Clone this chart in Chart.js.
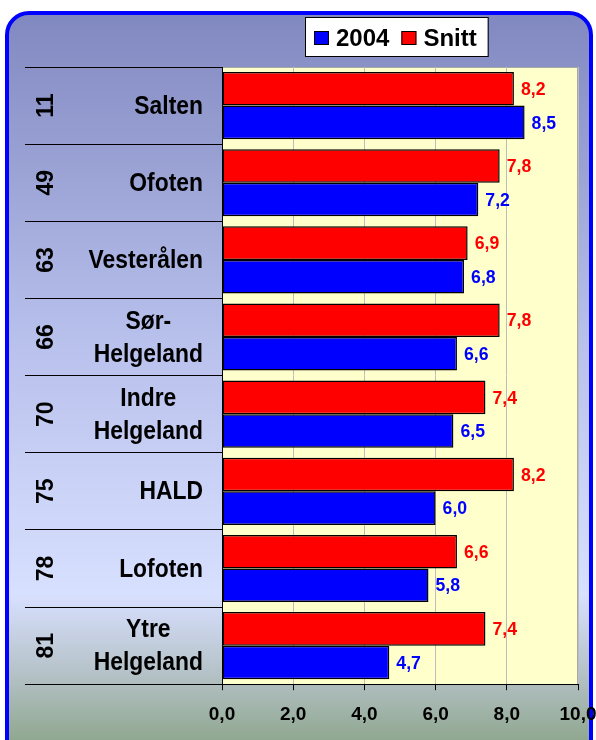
<!DOCTYPE html>
<html>
<head>
<meta charset="utf-8">
<script src="https://cdn.jsdelivr.net/npm/chart.js@4/dist/chart.umd.min.js"></script>
<style>
html, body { margin: 0; padding: 0; background: #fff; overflow: hidden; }
canvas { display: block; }
</style>
</head>
<body>
<canvas id="chart" width="620" height="740"></canvas>
<script>
const codes = ['11', '49', '63', '66', '70', '75', '78', '81']
const regions = [['Salten'], ['Ofoten'], ['Vesterålen'], ['Sør-', 'Helgeland'], ['Indre', 'Helgeland'], ['HALD'], ['Lofoten'], ['Ytre', 'Helgeland']]
const snitt = [8.2, 7.8, 6.9, 7.8, 7.4, 8.2, 6.6, 7.4]
const year2004 = [8.5, 7.2, 6.8, 6.6, 6.5, 6.0, 5.8, 4.7]
const xTicks = [0, 2, 4, 6, 8, 10]

const FONT = "'Liberation Sans', Arial, sans-serif"
const fmt = v => v.toFixed(1).replace('.', ',')

// background frame, plot fill, legend, category labels and value labels
const decor = {
	id: 'decor',
	beforeDraw(chart) {
		const ctx = chart.ctx
		const a = chart.chartArea
		ctx.save()
		// rounded frame with gradient
		const g = ctx.createLinearGradient(0, 12, 0, 740)
		g.addColorStop(0, '#8088C0')
		g.addColorStop(0.45, '#B8C0EC')
		g.addColorStop(0.8, '#D8E0FF')
		g.addColorStop(0.9, '#B8C4CC')
		g.addColorStop(1, '#90A890')
		ctx.beginPath()
		ctx.roundRect(7, 13, 584, 770, 22)
		ctx.fillStyle = g
		ctx.fill()
		ctx.lineWidth = 4
		ctx.strokeStyle = '#0000FF'
		ctx.stroke()
		// plot area
		ctx.fillStyle = '#FFFFCC'
		ctx.fillRect(a.left, a.top, a.right - a.left, a.bottom - a.top)
		ctx.strokeStyle = '#A8A8A8'
		ctx.lineWidth = 1
		ctx.strokeRect(a.left + 0.5, a.top + 0.5, a.right - a.left - 1, a.bottom - a.top)
		// legend (2004 first, then Snitt)
		ctx.font = 'bold 24px ' + FONT
		ctx.textBaseline = 'middle'
		ctx.textAlign = 'left'
		const items = chart.data.datasets.slice().reverse()
		let x = 314
		const ly = 38
		const boxes = []
		items.forEach(ds => {
			const w = ctx.measureText(ds.label).width
			boxes.push({ x: x, label: ds.label, color: ds.backgroundColor })
			x += 15 + 7 + w + 12
		})
		const right = x - 12 + 11
		ctx.fillStyle = '#fff'
		ctx.fillRect(305, 17, right - 305, 39)
		ctx.strokeStyle = '#000'
		ctx.strokeRect(305.5, 17.5, right - 305, 39)
		boxes.forEach(b => {
			ctx.fillStyle = b.color
			ctx.fillRect(b.x, ly - 7, 15, 14)
			ctx.strokeStyle = '#000'
			ctx.strokeRect(b.x + 0.5, ly - 6.5, 14, 13)
			ctx.fillStyle = '#000'
			ctx.fillText(b.label, b.x + 22, ly + 1)
		})
		// category labels
		const ys = chart.scales.y
		ctx.fillStyle = '#000'
		codes.forEach((code, i) => {
			const yc = ys.getPixelForValue(i)
			ctx.save()
			ctx.translate(46, yc)
			ctx.rotate(-Math.PI / 2)
			ctx.font = 'bold 23px ' + FONT
			ctx.textAlign = 'center'
			ctx.fillText(code, 0, 1)
			ctx.restore()
			const lines = regions[i]
			ctx.save()
			ctx.font = 'bold 26px ' + FONT
			ctx.textAlign = 'center'
			const sx = 0.88
			const maxW = Math.max(...lines.map(l => ctx.measureText(l).width)) * sx
			const cx = 203 - maxW / 2
			ctx.translate(cx, 0)
			ctx.scale(sx, 1)
			lines.forEach((l, j) => {
				ctx.fillText(l, 0, yc + 1 + (j - (lines.length - 1) / 2) * 33)
			})
			ctx.restore()
		})
		ctx.restore()
	},
	afterDatasetsDraw(chart) {
		const ctx = chart.ctx
		ctx.save()
		ctx.font = 'bold 19px ' + FONT
		ctx.textBaseline = 'middle'
		ctx.textAlign = 'left'
		chart.data.datasets.forEach((ds, di) => {
			const meta = chart.getDatasetMeta(di)
			meta.data.forEach((bar, i) => {
				ctx.save()
				ctx.translate(bar.x + 7, bar.y + 1)
				ctx.scale(0.93, 1)
				ctx.fillStyle = ds.labelColor
				ctx.fillText(fmt(ds.data[i]), 0, 0)
				ctx.restore()
			})
		})
		ctx.restore()
	}
}

const chart = new Chart(document.getElementById('chart'), {
	type: 'bar',
	data: {
		labels: regions.map(r => r.join(' ')),
		datasets: [
			{
				label: 'Snitt',
				data: snitt,
				backgroundColor: '#FF0000',
				labelColor: '#FF0000',
				borderColor: '#000',
				borderWidth: 1.5,
				borderSkipped: false
			},
			{
				label: '2004',
				data: year2004,
				backgroundColor: '#0000FF',
				labelColor: '#0000FF',
				borderColor: '#000',
				borderWidth: 1.5,
				borderSkipped: false
			}
		]
	},
	options: {
		indexAxis: 'y',
		responsive: false,
		animation: false,
		categoryPercentage: 0.87,
		barPercentage: 1,
		layout: { padding: { left: 25, right: 42, top: 67, bottom: 1 } },
		plugins: {
			legend: { display: false },
			tooltip: { enabled: false }
		},
		scales: {
			x: {
				min: 0,
				max: 10,
				afterBuildTicks: s => { s.ticks = xTicks.map(v => ({ value: v })) },
				ticks: {
					callback: v => fmt(v),
					color: '#000',
					font: { family: FONT, size: 19, weight: 'bold' },
					padding: 13,
					maxRotation: 0,
					autoSkip: false
				},
				grid: { color: '#BDBDBD', tickColor: '#000', tickLength: 6, lineWidth: 1 },
				border: { color: '#000', width: 1 }
			},
			y: {
				ticks: { display: false },
				grid: { drawOnChartArea: false, color: '#000', tickLength: 197, offset: true },
				border: { color: '#000', width: 1 }
			}
		}
	},
	plugins: [decor]
})
</script>
</body>
</html>
